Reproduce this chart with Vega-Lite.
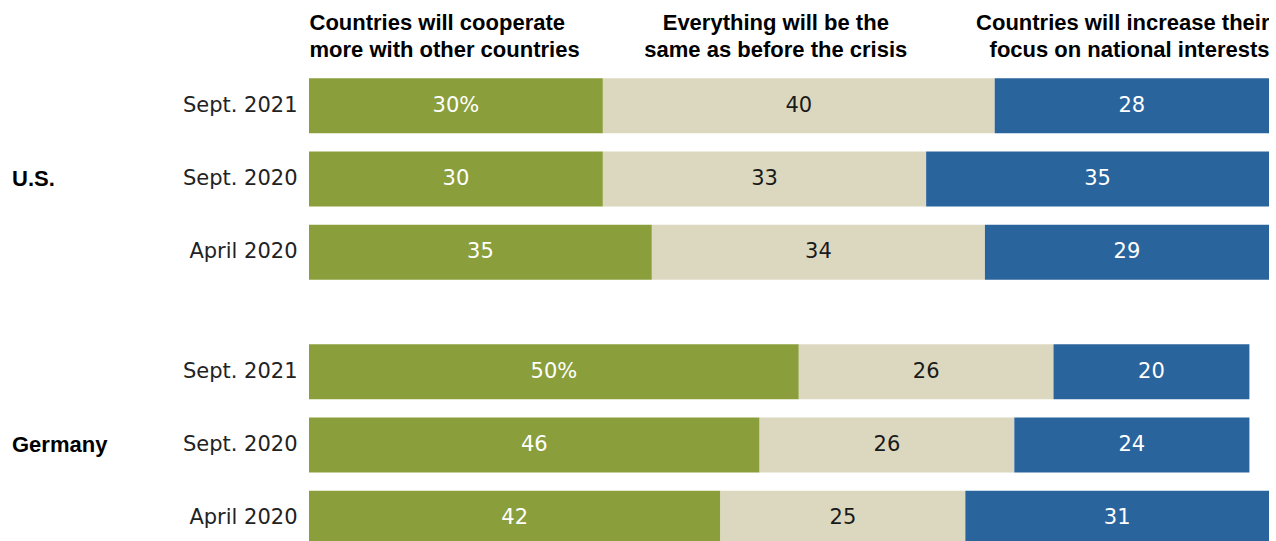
{
  "$schema": "https://vega.github.io/schema/vega-lite/v6.json",
  "background": "white",
  "padding": {"left": 11, "top": 0, "right": 0, "bottom": 0},
  "bounds": "flush",
  "data": {
    "values": [
      {"country": "U.S.", "period": "Sept. 2021", "category": "Countries will cooperate more with other countries", "rank": 1, "value": 30, "label": "30%"},
      {"country": "U.S.", "period": "Sept. 2021", "category": "Everything will be the same as before the crisis", "rank": 2, "value": 40, "label": "40"},
      {"country": "U.S.", "period": "Sept. 2021", "category": "Countries will increase their focus on national interests", "rank": 3, "value": 28, "label": "28"},
      {"country": "U.S.", "period": "Sept. 2020", "category": "Countries will cooperate more with other countries", "rank": 1, "value": 30, "label": "30"},
      {"country": "U.S.", "period": "Sept. 2020", "category": "Everything will be the same as before the crisis", "rank": 2, "value": 33, "label": "33"},
      {"country": "U.S.", "period": "Sept. 2020", "category": "Countries will increase their focus on national interests", "rank": 3, "value": 35, "label": "35"},
      {"country": "U.S.", "period": "April 2020", "category": "Countries will cooperate more with other countries", "rank": 1, "value": 35, "label": "35"},
      {"country": "U.S.", "period": "April 2020", "category": "Everything will be the same as before the crisis", "rank": 2, "value": 34, "label": "34"},
      {"country": "U.S.", "period": "April 2020", "category": "Countries will increase their focus on national interests", "rank": 3, "value": 29, "label": "29"},
      {"country": "Germany", "period": "Sept. 2021", "category": "Countries will cooperate more with other countries", "rank": 1, "value": 50, "label": "50%"},
      {"country": "Germany", "period": "Sept. 2021", "category": "Everything will be the same as before the crisis", "rank": 2, "value": 26, "label": "26"},
      {"country": "Germany", "period": "Sept. 2021", "category": "Countries will increase their focus on national interests", "rank": 3, "value": 20, "label": "20"},
      {"country": "Germany", "period": "Sept. 2020", "category": "Countries will cooperate more with other countries", "rank": 1, "value": 46, "label": "46"},
      {"country": "Germany", "period": "Sept. 2020", "category": "Everything will be the same as before the crisis", "rank": 2, "value": 26, "label": "26"},
      {"country": "Germany", "period": "Sept. 2020", "category": "Countries will increase their focus on national interests", "rank": 3, "value": 24, "label": "24"},
      {"country": "Germany", "period": "April 2020", "category": "Countries will cooperate more with other countries", "rank": 1, "value": 42, "label": "42"},
      {"country": "Germany", "period": "April 2020", "category": "Everything will be the same as before the crisis", "rank": 2, "value": 25, "label": "25"},
      {"country": "Germany", "period": "April 2020", "category": "Countries will increase their focus on national interests", "rank": 3, "value": 31, "label": "31"}
    ]
  },
  "facet": {
    "row": {
      "field": "country",
      "type": "nominal",
      "sort": ["U.S.", "Germany"],
      "header": {"title": null, "labels": false}
    }
  },
  "spacing": 46,
  "spec": {
    "width": 960,
    "height": {"step": 73.3},
    "layer": [
      {
        "mark": {"type": "bar"},
        "encoding": {
          "y": {
            "field": "period",
            "type": "nominal",
            "sort": ["Sept. 2021", "Sept. 2020", "April 2020"],
            "scale": {"paddingInner": 0.25, "paddingOuter": 0.125},
            "axis": {
              "title": null,
              "domain": false,
              "ticks": false,
              "labelPadding": 12,
              "labelFont": "DejaVu Sans",
              "labelFontSize": 21,
              "labelColor": "#222222",
              "minExtent": 150,
              "maxExtent": 150
            }
          },
          "x": {
            "field": "value",
            "type": "quantitative",
            "stack": "zero",
            "scale": {"domain": [0, 98], "nice": false},
            "axis": {
              "orient": "top",
              "title": null,
              "domain": false,
              "ticks": false,
              "grid": false,
              "values": [0, 47.6, 98],
              "labelExpr": "datum.value < 1 ? ['Countries will cooperate', 'more with other countries'] : datum.value > 90 ? ['Countries will increase their', 'focus on national interests'] : ['Everything will be the', 'same as before the crisis']",
              "labelFont": "Liberation Sans",
              "labelFontWeight": "bold",
              "labelFontSize": 22,
              "labelColor": "black",
              "labelLineHeight": 27,
              "labelBaseline": "bottom",
              "labelPadding": 35,
              "labelOverlap": false,
              "labelBound": false,
              "labelFlush": false,
              "labelLimit": 0,
              "labelAlign": {
                "condition": [
                  {"test": "datum.value < 1", "value": "left"},
                  {"test": "datum.value > 90", "value": "right"}
                ],
                "value": "center"
              },
              "minExtent": 69,
              "maxExtent": 69
            }
          },
          "order": {"field": "rank", "type": "quantitative"},
          "color": {
            "field": "category",
            "type": "nominal",
            "scale": {
              "domain": [
                "Countries will cooperate more with other countries",
                "Everything will be the same as before the crisis",
                "Countries will increase their focus on national interests"
              ],
              "range": ["#8A9F3B", "#DCD8C0", "#2A649D"]
            },
            "legend": null
          }
        }
      },
      {
        "mark": {"type": "text", "font": "DejaVu Sans", "fontSize": 21, "baseline": "middle", "align": "center"},
        "encoding": {
          "y": {
            "field": "period",
            "type": "nominal",
            "sort": ["Sept. 2021", "Sept. 2020", "April 2020"]
          },
          "x": {
            "field": "value",
            "type": "quantitative",
            "stack": "zero",
            "bandPosition": 0.5
          },
          "order": {"field": "rank", "type": "quantitative"},
          "text": {"field": "label", "type": "nominal"},
          "color": {
            "condition": {"test": "datum.rank == 2", "value": "#1a1a1a"},
            "value": "white"
          }
        }
      },
      {
        "transform": [
          {"filter": "datum.rank == 1 && datum.period == 'Sept. 2020'"}
        ],
        "mark": {"type": "text", "font": "Liberation Sans", "fontWeight": "bold", "fontSize": 22, "baseline": "middle", "align": "left", "color": "black"},
        "encoding": {
          "y": {
            "field": "period",
            "type": "nominal",
            "sort": ["Sept. 2021", "Sept. 2020", "April 2020"]
          },
          "x": {"datum": -30.32, "type": "quantitative"},
          "text": {"field": "country", "type": "nominal"}
        }
      }
    ]
  },
  "config": {
    "view": {"stroke": null}
  }
}
